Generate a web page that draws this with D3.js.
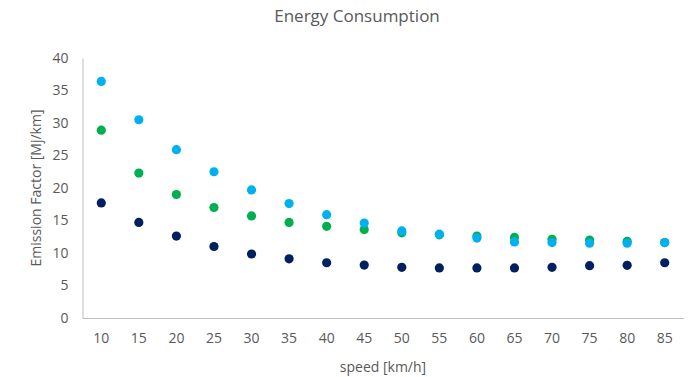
<!DOCTYPE html>
<html><head><meta charset="utf-8">
<script src="https://cdn.jsdelivr.net/npm/d3@7"></script>
<style>body{margin:0;background:#fff;}svg{display:block;font-family:"Open Sans",Calibri,sans-serif;}</style>
</head><body><svg id="c" width="695" height="377"></svg>
<script>
const speeds = [10,15,20,25,30,35,40,45,50,55,60,65,70,75,80,85];
const seriesNavy  = [17.7,14.7,12.6,11.0,9.85,9.1,8.5,8.15,7.8,7.7,7.7,7.7,7.8,8.05,8.1,8.5];
const seriesGreen = [28.9,22.3,19.0,17.0,15.7,14.7,14.1,13.6,13.1,12.8,12.6,12.4,12.1,12.0,11.8,11.6];
const seriesBlue  = [36.4,30.5,25.9,22.5,19.7,17.6,15.9,14.6,13.4,12.9,12.3,11.7,11.6,11.5,11.5,11.6];
const yTicks = [0,5,10,15,20,25,30,35,40];
const series = [
  {name:"navy", values:seriesNavy, color:"#002060"},
  {name:"green", values:seriesGreen, color:"#00B050"},
  {name:"blue", values:seriesBlue, color:"#00B0F0"}
];
const svg = d3.select("#c");
const L=82.5, R=683.5, T=58, B=318;
const x = d3.scaleBand().domain(speeds).range([L,R]);
const y = d3.scaleLinear().domain([0,40]).range([B,T]);
const gray="#595959", axisCol="#BFBFBF";

svg.append("text").attr("x",357).attr("y",22).attr("text-anchor","middle")
  .attr("font-size",17).attr("fill",gray).text("Energy Consumption");

const ya = svg.append("g").attr("transform",`translate(${L},0)`)
  .call(d3.axisLeft(y).tickValues(yTicks).tickSize(0).tickPadding(14));
ya.select(".domain").attr("stroke",axisCol);
ya.selectAll("text").attr("font-size",14).attr("fill",gray).attr("font-family","'Open Sans',sans-serif");

const xa = svg.append("g").attr("transform",`translate(0,${B})`)
  .call(d3.axisBottom(x).tickSize(0).tickPadding(15));
xa.select(".domain").attr("stroke",axisCol);
xa.selectAll("text").attr("font-size",14).attr("fill",gray).attr("font-family","'Open Sans',sans-serif");

svg.append("text").attr("x",(L+R)/2).attr("y",372).attr("text-anchor","middle")
  .attr("font-size",14).attr("fill",gray).text("speed [km/h]");
svg.append("text").attr("transform","translate(41,188) rotate(-90)").attr("text-anchor","middle")
  .attr("font-size",14).attr("fill",gray).text("Emission Factor [Mj/km]");

series.forEach(s=>{
  svg.append("g").selectAll("circle").data(s.values).join("circle")
    .attr("cx",(d,i)=>x(speeds[i])+x.bandwidth()/2)
    .attr("cy",d=>y(d)).attr("r",4.6).attr("fill",s.color);
});
</script></body></html>
